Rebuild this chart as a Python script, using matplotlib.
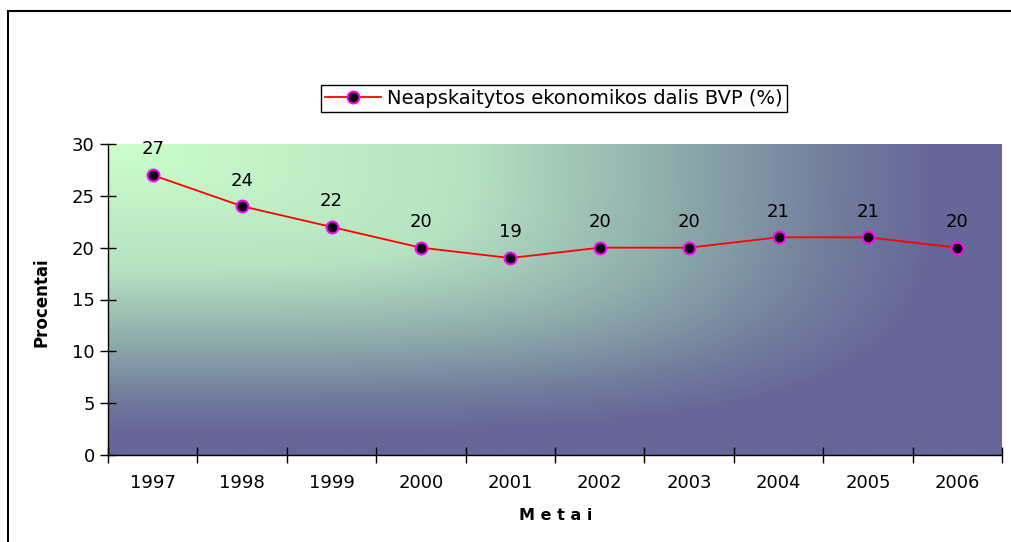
import numpy as np
import matplotlib
matplotlib.use("Agg")
import matplotlib.pyplot as plt
from matplotlib.colors import LinearSegmentedColormap
from matplotlib.patches import Rectangle

plt.rcParams['font.family'] = ['DejaVu Sans']

metai = ['1997', '1998', '1999', '2000', '2001', '2002', '2003', '2004', '2005', '2006']
dalis = [27, 24, 22, 20, 19, 20, 20, 21, 21, 20]
serija = 'Neapskaitytos ekonomikos dalis BVP (%)'

fig = plt.figure(figsize=(10.12, 5.42), dpi=100)
W, H = 1012, 542

# remelis aplink diagrama (desinys ir apatinis krastas uz paveikslo ribu)
fig.patches.append(Rectangle((8 / W, -0.5), 1.5, 1.5 - 11 / H, transform=fig.transFigure,
                             fill=False, edgecolor='black', linewidth=1.5))

ax = fig.add_axes([108 / W, 1 - 455 / H, (1002 - 108) / W, (455 - 144) / H])

x = np.arange(len(metai))

# gradientas "is kampo" (kairysis virsutinis)
u, v = np.meshgrid(np.linspace(0, 1, 450), np.linspace(0, 1, 300))
t = np.clip((u ** 4 + v ** 4) ** 0.25, 0, 1)
cmap = LinearSegmentedColormap.from_list(
    'fonas', [(0, '#ccffcc'), (0.4, '#b6e2c2'), (0.65, '#8ca8aa'),
              (0.8, '#74809e'), (0.93, '#666699'), (1, '#666699')])
ax.imshow(t, cmap=cmap, extent=[-0.5, len(metai) - 0.5, 0, 30], aspect='auto',
          origin='upper', zorder=0, vmin=0, vmax=1)

ax.plot(x, dalis, color='red', linewidth=1.3, marker='o', markersize=8.5,
        markerfacecolor='black', markeredgecolor='#ff00ff', markeredgewidth=1.5,
        label=serija, zorder=3)

for xi, yi in zip(x, dalis):
    ax.annotate(str(yi), (xi, yi), xytext=(0, 12), textcoords='offset points',
                ha='center', va='bottom', fontsize=13)

ax.set_xlim(-0.5, len(metai) - 0.5)
ax.set_ylim(0, 30)
ax.set_yticks(range(0, 31, 5))
ax.set_xticks(x)
ax.set_xticklabels(metai)
ax.set_xticks(np.arange(-0.5, len(metai), 1), minor=True)
ax.tick_params(axis='x', which='major', length=0, labelsize=13, pad=14)
ax.tick_params(axis='x', which='minor', direction='inout', length=11, width=1)
ax.tick_params(axis='y', direction='inout', length=11, width=1, labelsize=13, pad=4)

for s in ['top', 'right']:
    ax.spines[s].set_visible(False)
ax.spines['left'].set_linewidth(1)
ax.spines['bottom'].set_linewidth(1)

fig.text(42 / W, 1 - 302 / H, 'Procentai', rotation=90, ha='center', va='center',
         fontsize=12, fontweight='bold')
fig.text(556 / W, 1 - 516 / H, 'M e t a i', ha='center', va='center',
         fontsize=11.5, fontweight='bold')

leg = fig.legend(loc='center', bbox_to_anchor=(554 / W, 1 - 98.5 / H), fontsize=14,
                 fancybox=False, edgecolor='black', framealpha=1,
                 handlelength=2.9, borderpad=0.2, handletextpad=0.3)
leg.get_frame().set_linewidth(1)

fig.savefig('out.png', dpi=100)
